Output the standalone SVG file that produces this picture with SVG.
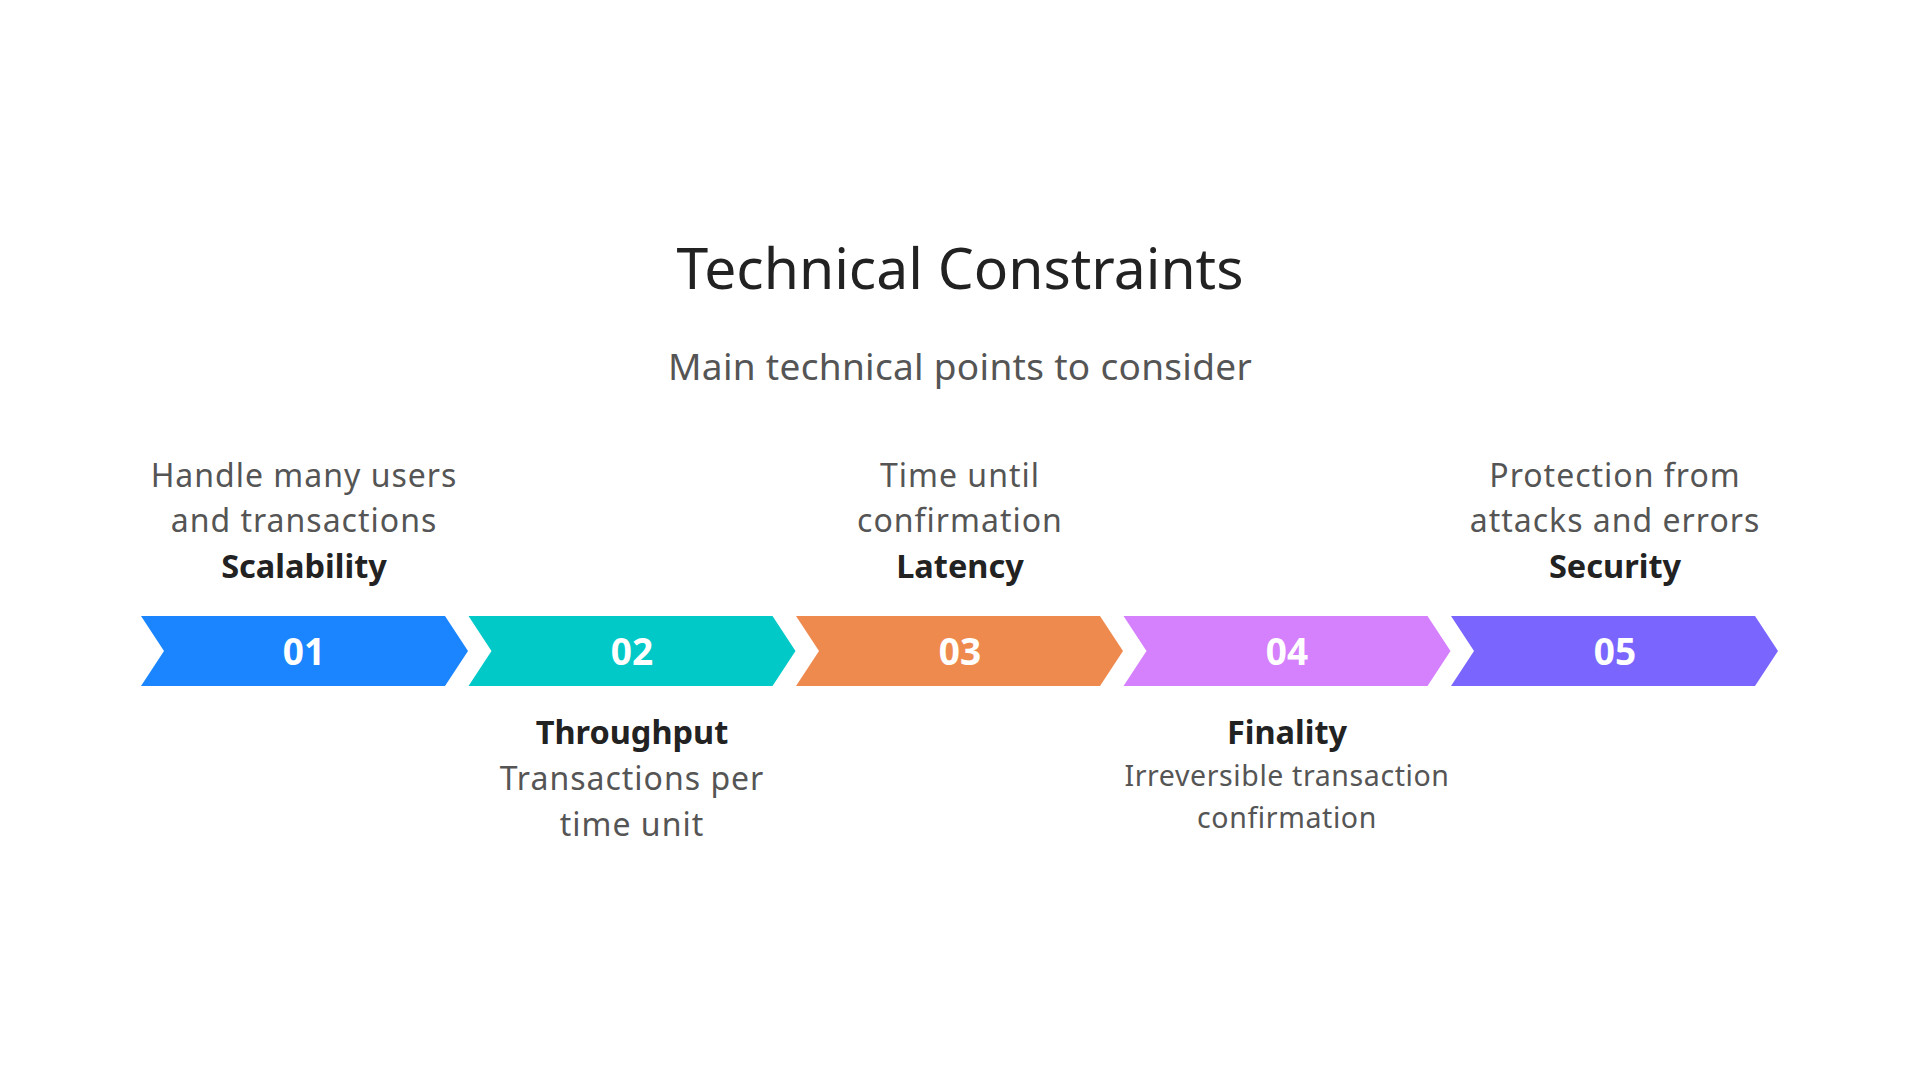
<svg xmlns="http://www.w3.org/2000/svg" width="1920" height="1080" viewBox="0 0 1920 1080">
<style>
.title{font-family:"Noto Sans",sans-serif;font-size:57px;fill:#222;text-anchor:middle}
.sub{font-family:"Noto Sans",sans-serif;font-size:37px;letter-spacing:0.3px;fill:#555;text-anchor:middle}
.desc{font-family:"Noto Sans",sans-serif;font-size:32px;letter-spacing:1px;fill:#555;text-anchor:middle}
.desc2{font-family:"Noto Sans",sans-serif;font-size:28.5px;letter-spacing:0.6px;fill:#555;text-anchor:middle}
.head{font-family:"Noto Sans",sans-serif;font-size:32.5px;font-weight:bold;fill:#222;text-anchor:middle}
.num{font-family:"Noto Sans",sans-serif;font-size:37px;font-weight:bold;fill:#fff;text-anchor:middle}
</style>
<defs>
<path id="chev" d="M0,0 H304 L327,35 L304,70 H0 L23,35 Z"/>
</defs>
<rect width="1920" height="1080" fill="#fff"/>
<text class="title" x="960" y="289">Technical Constraints</text>
<text class="sub" x="960" y="380">Main technical points to consider</text>
<g id="connectors"></g>
<g id="step1">
<use href="#chev" x="141" y="616" fill="#1A85FF"/>
<text class="num" x="304" y="665">01</text>
<text class="desc" x="304" y="487">Handle many users</text>
<text class="desc" x="304" y="532">and transactions</text>
<text class="head" x="304" y="578">Scalability</text>
</g>
<g id="step2">
<use href="#chev" x="468.5" y="616" fill="#00C9C8"/>
<text class="num" x="632" y="665">02</text>
<text class="head" x="632" y="744">Throughput</text>
<text class="desc" x="632" y="790">Transactions per</text>
<text class="desc" x="632" y="836">time unit</text>
</g>
<g id="step3">
<use href="#chev" x="796" y="616" fill="#EF8A4F"/>
<text class="num" x="960" y="665">03</text>
<text class="desc" x="960" y="487">Time until</text>
<text class="desc" x="960" y="532">confirmation</text>
<text class="head" x="960" y="578">Latency</text>
</g>
<g id="step4">
<use href="#chev" x="1123.5" y="616" fill="#D580FC"/>
<text class="num" x="1287" y="665">04</text>
<text class="head" x="1287" y="744">Finality</text>
<text class="desc2" x="1287" y="786">Irreversible transaction</text>
<text class="desc2" x="1287" y="828">confirmation</text>
</g>
<g id="step5">
<use href="#chev" x="1451" y="616" fill="#7A66FF"/>
<text class="num" x="1615" y="665">05</text>
<text class="desc" x="1615" y="487">Protection from</text>
<text class="desc" x="1615" y="532">attacks and errors</text>
<text class="head" x="1615" y="578">Security</text>
</g>
</svg>
